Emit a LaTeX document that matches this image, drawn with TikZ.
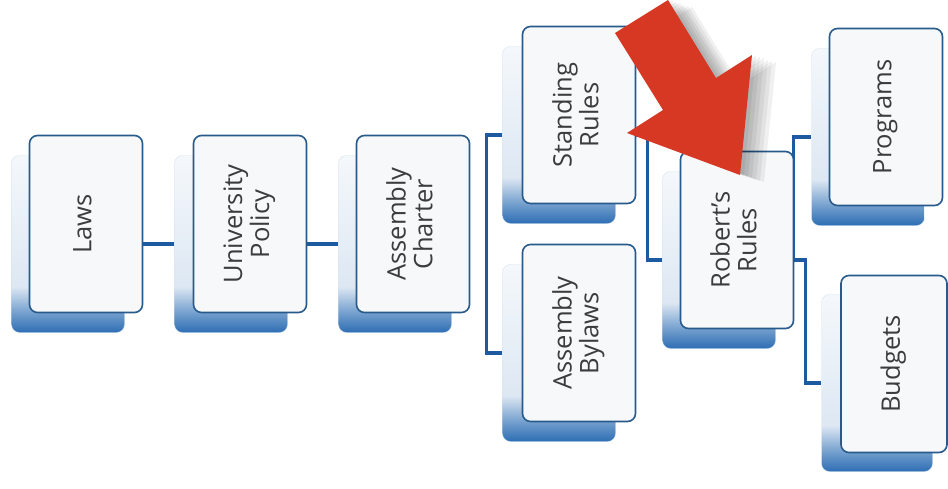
\documentclass[tikz,border=0pt]{standalone}
\usepackage{fontspec}
\setmainfont{Open Sans}
\usepackage{graphicx}
\usetikzlibrary{positioning, calc}
\definecolor{linkblue}{RGB}{30,90,160}
\definecolor{edgeblue}{RGB}{40,90,140}
\definecolor{backblue}{RGB}{45,110,180}
\definecolor{frontfill}{RGB}{246,248,250}
\definecolor{arrowred}{RGB}{214,56,36}
\definecolor{textgray}{RGB}{60,60,60}
\pgfdeclareverticalshading{backshade}{100bp}{
    color(0bp)=(backblue); color(25bp)=(backblue);
    color(30bp)=(backblue!70!white); color(38bp)=(backblue!16!white);
    color(75bp)=(backblue!5!white); color(100bp)=(backblue!5!white)}
\newcommand{\boxtext}[1]{\rotatebox{90}{\begin{tabular}{@{}c@{}}#1\end{tabular}}}
\tikzset{
    box/.style = {inner sep=0pt, minimum width=113pt, minimum height=177pt,
        rounded corners=8pt},
    back_box/.style = {box, draw=backblue!20, shading=backshade},
    front_box/.style = {box, draw=edgeblue, line width=1.6pt, fill=frontfill,
        text=textgray, font=\fontsize{25.5}{25}\selectfont},
    link/.style = {draw=linkblue, line width=3.5pt},
    arrow_shadow/.style = {fill=black, opacity=0.06},
}

\begin{document}
\begin{tikzpicture}[x=1pt, y=-1pt]
    \useasboundingbox (0,0) rectangle (948,488);
    % boxes behind
    \node (laws_back) [back_box] at (68,244) {};
    \node (policy_back) [back_box] at (231,244) {};
    \node (charter_back) [back_box] at (395,244) {};
    \node (standing_back) [back_box] at (559,135) {};
    \node (bylaws_back) [back_box] at (559,353) {};
    \node (roberts_back) [back_box] at (719,260) {};
    \node (programs_back) [back_box] at (868,137) {};
    \node (budgets_back) [back_box, minimum width=111pt] at (877,383) {};
    % links
    \draw [link] (laws_back.east) -- (policy_back.west);
    \draw [link] (policy_back.east) -- (charter_back.west);
    \draw [link] (standing_back.west) -| ($(charter_back.east)+(35,0)$) |- (bylaws_back.west);
    \draw [link] (standing_back.east) -- ++(32,0) |- (roberts_back.west);
    \draw [link] (roberts_back.east) -- ++(18,0) |- (programs_back.west);
    \draw [link] (roberts_back.east) -- ++(30,0) |- (budgets_back.west);
    % boxes in front
    \node (laws) [front_box] at ($(laws_back)+(18,-20)$) {\boxtext{Laws}};
    \node (policy) [front_box] at ($(policy_back)+(19,-20)$) {\boxtext{University\\Policy}};
    \node (charter) [front_box] at ($(charter_back)+(18,-20)$) {\boxtext{Assembly\\Charter}};
    \node (standing) [front_box] at ($(standing_back)+(20,-20)$) {\boxtext{Standing\\Rules}};
    \node (bylaws) [front_box] at ($(bylaws_back)+(20,-20)$) {\boxtext{Assembly\\Bylaws}};
    \node (roberts) [front_box] at ($(roberts_back)+(18,-20)$) {\boxtext{Robert's\\Rules}};
    \node (programs) [front_box] at ($(programs_back)+(18,-20)$) {\boxtext{Programs}};
    \node (budgets) [front_box, minimum width=106pt] at ($(budgets_back)+(17,-19)$) {\boxtext{Budgets}};
    % red pointer with its soft shadow
    \foreach \dx/\dy in {4/1, 8/2, 12/3, 16/5, 20/6, 24/7}
        \fill [arrow_shadow, shift={(\dx,\dy)}] (615,33) -- (663,110) -- (627,133) -- (740,175)
            -- (752,55) -- (716,78) -- (668,0) -- cycle;
    \fill [arrowred] (615,33) -- (663,110) -- (627,133) -- (740,175)
        -- (752,55) -- (716,78) -- (668,0) -- cycle;
\end{tikzpicture}
\end{document}
